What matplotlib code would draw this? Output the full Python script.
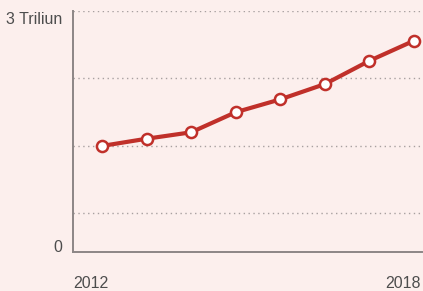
"""Line chart: growth from 2012 to 2018 in trillions."""

import matplotlib

matplotlib.use("Agg")
import matplotlib.pyplot as plt
import matplotlib.transforms as mtransforms

years = ["2012", "", "", "", "", "", "", "2018"]
values = [1.32, 1.41, 1.49, 1.74, 1.90, 2.09, 2.38, 2.63]
grid_levels = [3.0, 2.16, 1.32, 0.48]
y_labels = {3.0: "3 Triliun", 0.0: "0"}

BACKGROUND = "#fcefed"
LINE_RED = "#c0302a"
AXIS_GREY = "#8c8686"
TEXT_GREY = "#4d4d4d"

plt.rcParams["font.family"] = ["Liberation Sans Narrow", "Liberation Sans", "DejaVu Sans"]

fig = plt.figure(figsize=(4.23, 2.91), dpi=100, facecolor=BACKGROUND)
ax = fig.add_axes([73 / 423, 39 / 291, 349 / 423, 241 / 291], facecolor=BACKGROUND)

positions = list(range(len(values)))
for level in grid_levels:
    ax.axhline(level, color="#a8a0a0", linewidth=1.0, linestyle=(0, (1, 2.5)), zorder=1)

ax.plot(
    positions,
    values,
    color=LINE_RED,
    linewidth=3.0,
    marker="o",
    markersize=8,
    markerfacecolor="white",
    markeredgecolor=LINE_RED,
    markeredgewidth=1.8,
    zorder=3,
    solid_capstyle="round",
)

ax.set_xlim(-0.65, 7.18)
ax.set_ylim(0, 3.0)
ax.set_xticks([])
ax.set_yticks([])
for side in ("top", "right"):
    ax.spines[side].set_visible(False)
for side in ("left", "bottom"):
    ax.spines[side].set_color(AXIS_GREY)
    ax.spines[side].set_linewidth(1.4)

# y labels sit left of the axis, "3 Triliun" hangs below its line
for level, text in y_labels.items():
    offset = mtransforms.offset_copy(ax.transData, fig=fig, x=-11, y=-9 if level else 4, units="dots")
    ax.text(
        -0.65,
        level,
        text,
        transform=offset,
        ha="right",
        va="center",
        fontsize=11.5,
        color=TEXT_GREY,
        clip_on=False,
    )

# year labels, nudged a little left of their points
label_shift = mtransforms.offset_copy(ax.transData, fig=fig, x=-11, y=-24, units="dots")
for pos, year in zip(positions, years):
    if year:
        ax.text(pos, 0, year, transform=label_shift, ha="center", va="top",
                fontsize=11.5, color=TEXT_GREY, clip_on=False)

fig.savefig("out.png", dpi=100, facecolor=BACKGROUND)
